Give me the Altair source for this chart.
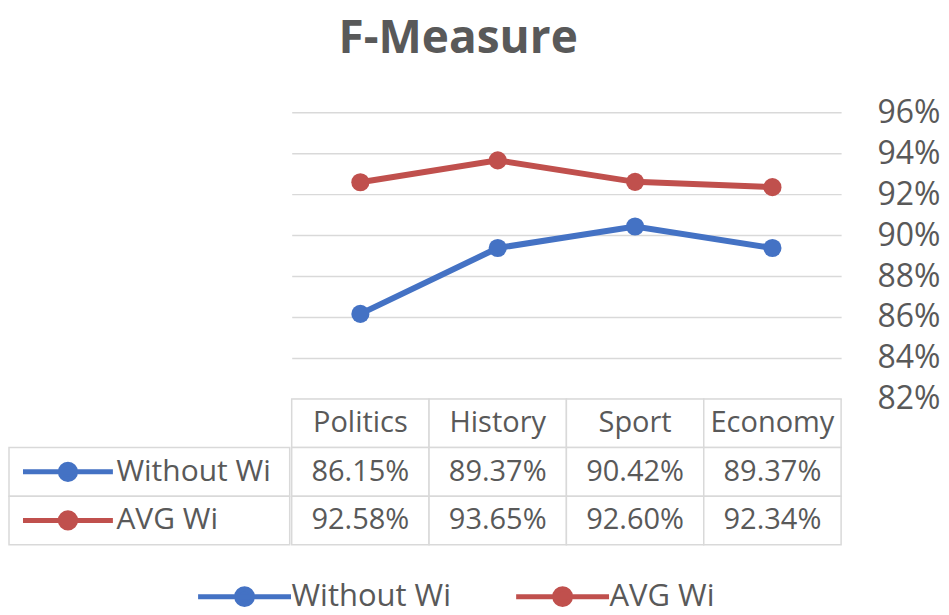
import altair as alt
import pandas as pd

# ---- data ----
categories = ["Politics", "History", "Sport", "Economy"]
series = ["Without Wi", "AVG Wi"]
without_wi = [0.8615, 0.8937, 0.9042, 0.8937]
avg_wi = [0.9258, 0.9365, 0.9260, 0.9234]
colors = ["#4472C4", "#C0504D"]
y_ticks = [0.82, 0.84, 0.86, 0.88, 0.90, 0.92, 0.94, 0.96]
table_rows = ["header"] + series

FONT = "Open Sans"
TXT = "#595959"
GRID = "#D9D9D9"
SYM = "M-1,0L1,0M0.17,0A0.17,0.17,0,1,1,-0.17,0A0.17,0.17,0,1,1,0.17,0Z"

rows = []
for s, vals in zip(series, [without_wi, avg_wi]):
    for c, v in zip(categories, vals):
        rows.append({"series": s, "category": c, "value": v})
df = pd.DataFrame(rows)

cells = [{"row": "header", "category": c, "label": c} for c in categories]
for r in rows:
    cells.append({"row": r["series"], "category": r["category"], "label": f"{r['value']*100:.2f}%"})
cell_df = pd.DataFrame(cells)
label_df = pd.DataFrame({"row": series})

color_scale = alt.Scale(domain=series, range=colors)
x_scale = alt.Scale(type="band", domain=categories, paddingInner=0, paddingOuter=0)
row_scale = alt.Scale(type="band", domain=table_rows, paddingInner=0, paddingOuter=0)

PLOT_W, PLOT_H, LAB_W, ROW_H = 550, 287, 281, 146

# ---- line chart ----
x_enc = alt.X("category:N", scale=x_scale, axis=None, bandPosition=0.5)
y_enc = alt.Y(
    "value:Q",
    scale=alt.Scale(domain=[0.82, 0.96], nice=False, zero=False),
    axis=alt.Axis(orient="right", values=y_ticks, format=".0%", grid=True,
                  gridColor=GRID, gridWidth=1.5, domain=False, ticks=False,
                  labelPadding=36, labelFontSize=32, labelFont=FONT,
                  labelColor=TXT, title=None),
)
lines = alt.Chart(df).mark_line(strokeWidth=6).encode(
    x=x_enc, y=y_enc,
    color=alt.Color("series:N", scale=color_scale, legend=None),
)
points = alt.Chart(df).mark_point(filled=True, size=330, opacity=1).encode(
    x=x_enc, y=y_enc,
    color=alt.Color("series:N", scale=color_scale, legend=None),
)
line_chart = (lines + points).properties(width=PLOT_W, height=PLOT_H)

spacer = alt.Chart(pd.DataFrame({"s": [0]})).mark_point(opacity=0).properties(
    width=LAB_W, height=PLOT_H)

# ---- data table ----
cell_rect = alt.Chart(cell_df).mark_rect(fill="white", stroke=GRID, strokeWidth=1.5).encode(
    x=alt.X("category:N", scale=x_scale, axis=None),
    y=alt.Y("row:N", scale=row_scale, axis=None),
)
cell_text = alt.Chart(cell_df).mark_text(font=FONT, fontSize=29, color=TXT).encode(
    x=alt.X("category:N", scale=x_scale, axis=None),
    y=alt.Y("row:N", scale=row_scale, axis=None),
    text="label:N",
)
values_chart = (cell_rect + cell_text).properties(width=PLOT_W, height=ROW_H)

slot_scale = alt.Scale(type="band", domain=["sym", "lab"], paddingInner=0, paddingOuter=0)
lab_rect = alt.Chart(label_df).mark_rect(fill="white", stroke=GRID, strokeWidth=1.5).encode(
    y=alt.Y("row:N", scale=row_scale, axis=None),
)
lab_sym = alt.Chart(label_df).mark_point(shape=SYM, size=8100, filled=True,
                                         strokeWidth=5, opacity=1).encode(
    x=alt.X(datum="sym", scale=slot_scale, axis=None, bandPosition=0.42),
    y=alt.Y("row:N", scale=row_scale, axis=None),
    fill=alt.Fill("row:N", scale=color_scale, legend=None),
    stroke=alt.Stroke("row:N", scale=color_scale, legend=None),
)
lab_text = alt.Chart(label_df).mark_text(font=FONT, fontSize=30, color=TXT,
                                         align="left", dx=-33).encode(
    x=alt.X(datum="lab", scale=slot_scale, axis=None, bandPosition=0),
    y=alt.Y("row:N", scale=row_scale, axis=None),
    text="row:N",
)
label_chart = (lab_rect + lab_sym + lab_text).properties(width=LAB_W, height=ROW_H)

left_col = alt.vconcat(spacer, label_chart, spacing=0, bounds="flush")
right_col = alt.vconcat(line_chart, values_chart, spacing=0, bounds="flush")
body = alt.hconcat(left_col, right_col, spacing=0)

# ---- legend (drawn as marks) ----
leg_scale = alt.Scale(type="point", domain=series, padding=0.805, align=0.46)
leg_sym = alt.Chart(label_df).mark_point(shape=SYM, size=8649, filled=True,
                                         strokeWidth=5, opacity=1).encode(
    x=alt.X("row:N", scale=leg_scale, axis=None),
    fill=alt.Fill("row:N", scale=color_scale, legend=None),
    stroke=alt.Stroke("row:N", scale=color_scale, legend=None),
)
leg_text = alt.Chart(label_df).mark_text(font=FONT, fontSize=31, color=TXT,
                                         align="left", dx=47).encode(
    x=alt.X("row:N", scale=leg_scale, axis=None),
    text="row:N",
)
legend_chart = (leg_sym + leg_text).properties(width=LAB_W + PLOT_W, height=20)

chart = alt.vconcat(body, legend_chart, spacing=33).properties(
    title=alt.TitleParams("F-Measure", fontSize=46, font=FONT, fontWeight="bold",
                          color=TXT, anchor="middle", offset=33, dx=-16),
    padding={"left": 0, "top": 8, "right": 0, "bottom": 0},
).configure_view(stroke=None).resolve_scale(color="shared", x="independent")

chart.save("out.html", embed_options={"renderer": "svg", "actions": False})
